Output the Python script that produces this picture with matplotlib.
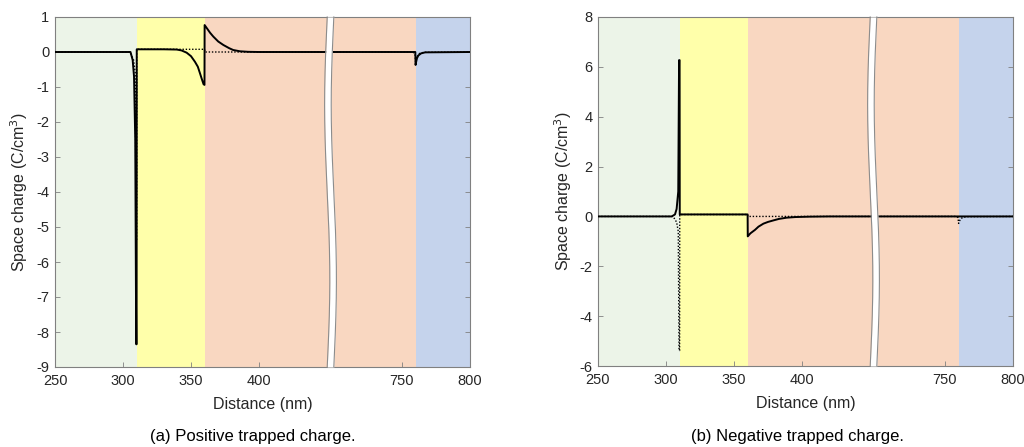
import numpy as np
import matplotlib
matplotlib.use('Agg')
import matplotlib.pyplot as plt

plt.rcParams['font.family'] = ['Liberation Sans', 'DejaVu Sans']
plt.rcParams['axes.unicode_minus'] = False

# Layer boundaries along the device (nm)
layer_edges = [250, 310, 360, 760, 800]
layer_colors = ['#ecf4e8', '#ffffaa', '#f9d7c1', '#c5d3ec']

# Reference profile without trapped charge (dotted, same in both panels)
ref_x = [250, 305.2, 307.8, 309.0, 309.6, 310.0, 310.1, 360.0, 360.1, 700,
         758.0, 759.6, 760.0, 760.5, 761.5, 763.0, 766.0, 800]
ref_y = [0, 0, -0.23, -0.6, -5.38, -5.38, 0.077, 0.077, 0, 0,
         0, -0.05, -0.28, -0.2, -0.1, -0.04, -0.01, 0]

# (a) positive trapped charge
pos_x = [250, 305.5, 307.1, 308.1, 309.0, 309.7, 310.0, 310.1, 320, 330,
         339.5, 343, 346.8, 350, 352.9, 355, 356.6, 358.0, 359.2, 359.9,
         360.0, 362, 364, 366.4, 370, 373.8, 378, 381, 386, 392, 400, 450,
         700, 759.8, 760.0, 760.3, 761, 762, 764, 767, 800]
pos_y = [0, 0, -0.23, -0.7, -2.5, -8.35, -8.35, 0.077, 0.077, 0.077,
         0.07, 0.045, -0.02, -0.12, -0.28, -0.42, -0.61, -0.78, -0.92, -0.94,
         0.77, 0.66, 0.55, 0.44, 0.3, 0.2, 0.11, 0.057, 0.02, 0.005, 0, 0,
         0, 0, -0.37, -0.3, -0.18, -0.1, -0.04, -0.01, 0]

# (b) negative trapped charge
neg_x = [250, 304.2, 306.6, 307.8, 309.0, 309.6, 310.0, 310.1, 360.0, 360.1,
         362, 365.4, 368, 371.6, 375, 378.9, 383, 388.7, 395, 405, 420, 450,
         700, 800]
neg_y = [0, 0, 0.08, 0.3, 1.0, 6.27, 6.27, 0.08, 0.08, -0.8,
         -0.68, -0.54, -0.41, -0.29, -0.22, -0.16, -0.1, -0.05, -0.025, -0.01, 0, 0,
         0, 0]

x_ticks = [250, 300, 350, 400, 750, 800]
a_yticks = list(range(-9, 2))
b_yticks = list(range(-6, 9, 2))

# broken x axis: 450..700 is squeezed into a small gap
GAP = 5.1


def fwd(x):
    x = np.asarray(x, dtype=float)
    return np.where(x <= 450, x,
                    np.where(x >= 700, x - 250 + GAP, 450 + (x - 450) * GAP / 250))


def inv(u):
    u = np.asarray(u, dtype=float)
    return np.where(u <= 450, u,
                    np.where(u >= 450 + GAP, u + 250 - GAP, 450 + (u - 450) * 250 / GAP))


def draw_break(ax):
    # wavy white strip over the gap, cutting the spines too
    span = 800 - 250 - 250 + GAP
    xc = (450 + GAP / 2 - 250) / span
    half = 3.3 / 415
    amp = 2.6 / 415
    t = np.linspace(0, 1, 200)
    yy = 1 - t
    left = xc - half - amp * np.sin(2 * np.pi * t)
    right = xc + half - amp * np.sin(2 * np.pi * t)
    ax.fill_betweenx(yy, left, right, color='white', transform=ax.transAxes,
                     zorder=5, clip_on=False, lw=0)
    ax.plot(left, yy, color='#8c8c8c', lw=0.8, transform=ax.transAxes, zorder=6, clip_on=False)
    ax.plot(right, yy, color='#8c8c8c', lw=0.8, transform=ax.transAxes, zorder=6, clip_on=False)


def plot_panel(ax, x, y, ylim, yticks, caption, ylabel_x, caption_x):
    ax.set_xscale('function', functions=(fwd, inv))
    for i in range(len(layer_colors)):
        ax.axvspan(layer_edges[i], layer_edges[i + 1], color=layer_colors[i], lw=0, zorder=0)
    ax.plot(ref_x, ref_y, color='black', lw=1.0, linestyle=(0, (1, 1.3)), zorder=2)
    ax.plot(x, y, color='black', lw=1.4, zorder=3)
    ax.set_xlim(250, 800)
    ax.set_ylim(*ylim)
    ax.set_xticks(x_ticks)
    ax.set_xticklabels([str(v) for v in x_ticks])
    ax.set_yticks(yticks)
    ax.set_yticklabels([str(v) for v in yticks])
    ax.minorticks_off()
    ax.tick_params(direction='in', right=True, length=3.5, width=0.6,
                   color='#808080', labelsize=10.5, labelcolor='#262626')
    ax.tick_params(axis='y', pad=4)
    ax.tick_params(axis='x', pad=5)
    for s in ax.spines.values():
        s.set_color('#808080')
        s.set_linewidth(0.8)
    ax.set_xlabel('Distance (nm)', fontsize=11.5, color='#262626')
    ax.set_ylabel('Space charge (C/cm$^3$)', fontsize=11.5, color='#262626')
    ax.xaxis.set_label_coords(0.5, -0.085)
    ax.yaxis.set_label_coords(ylabel_x, 0.5)
    draw_break(ax)
    fig.text(caption_x, 1 - 437 / 447, caption, ha='center', va='center', fontsize=12)


fig = plt.figure(figsize=(10.24, 4.47), dpi=100)
ax1 = fig.add_axes([55 / 1024, 80 / 447, 415 / 1024, 350 / 447])
ax2 = fig.add_axes([598 / 1024, 81 / 447, 415 / 1024, 349 / 447])

plot_panel(ax1, pos_x, pos_y, (-9, 1), a_yticks, '(a) Positive trapped charge.', -0.06, 253 / 1024)
plot_panel(ax2, neg_x, neg_y, (-6, 8), b_yticks, '(b) Negative trapped charge.', -0.057, 797 / 1024)

fig.savefig('out.png', dpi=100)
